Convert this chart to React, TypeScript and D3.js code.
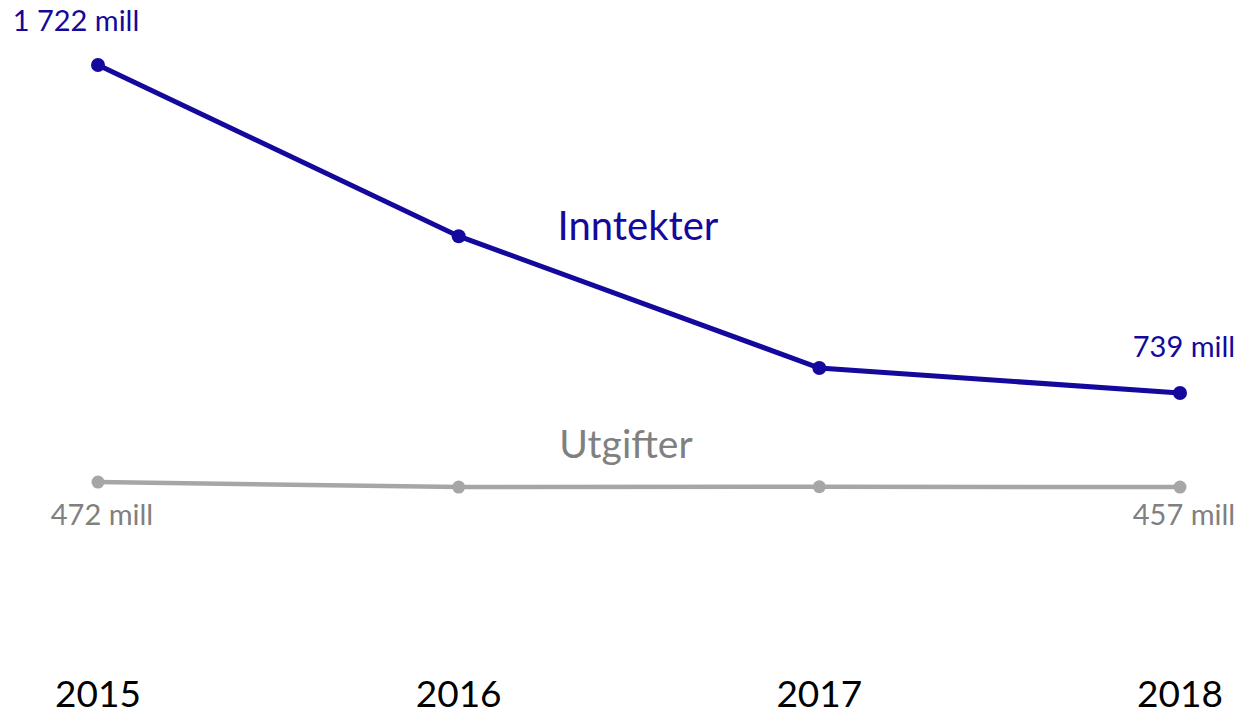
import React from 'react';
import * as d3 from 'd3';

// år og verdier (mill kr)
const years = ['2015', '2016', '2017', '2018'];
const inntekter = [1722, 1209, 814, 739];
const utgifter = [472, 457, 458, 457];
const inntektLabels = ['1 722 mill', '', '', '739 mill'];
const utgiftLabels = ['472 mill', '', '', '457 mill'];

const W = 1239;
const H = 716;
const FONT = 'Lato, "Open Sans", sans-serif';
const BLUE = '#14099c';
const GREY = '#a6a6a6';
const GREY_TEXT = '#808080';

export default function App() {
  const x = d3.scalePoint<string>().domain(years).range([98, 1180]);
  const y = d3.scaleLinear().domain([0, 1722]).range([639.6, 65]);

  const line = d3.line<number>()
    .x((_, i) => x(years[i]) as number)
    .y(d => y(d));

  return (
    <svg width={W} height={H} style={{ position: 'absolute', left: 0, top: 0, background: 'white' }}>
      {/* utgifter */}
      <path d={line(utgifter) || ''} fill="none" stroke={GREY} strokeWidth={4.5} />
      {utgifter.map((d, i) => (
        <circle key={'u' + i} cx={x(years[i])} cy={y(d)} r={6.5} fill={GREY} />
      ))}
      {/* inntekter */}
      <path d={line(inntekter) || ''} fill="none" stroke={BLUE} strokeWidth={5} />
      {inntekter.map((d, i) => (
        <circle key={'i' + i} cx={x(years[i])} cy={y(d)} r={7} fill={BLUE} />
      ))}

      {/* verdietiketter */}
      {inntektLabels.map((t, i) => t && (
        <text key={'il' + i}
          x={(x(years[i]) as number) + (i === 0 ? -22 : 4)}
          y={y(inntekter[i]) - (i === 0 ? 34 : 36)}
          textAnchor="middle" fontFamily={FONT} fontSize={29} fill={BLUE}>{t}</text>
      ))}
      {utgiftLabels.map((t, i) => t && (
        <text key={'ul' + i}
          x={(x(years[i]) as number) + 4}
          y={y(utgifter[i]) + (i === 0 ? 43 : 38)}
          textAnchor="middle" fontFamily={FONT} fontSize={29} fill={GREY_TEXT}>{t}</text>
      ))}

      {/* serienavn */}
      <text x={638} y={240} textAnchor="middle" fontFamily={FONT} fontSize={40} fill={BLUE}>Inntekter</text>
      <text x={626} y={458} textAnchor="middle" fontFamily={FONT} fontSize={39} fill={GREY_TEXT}>Utgifter</text>

      {/* år */}
      {years.map(yr => (
        <text key={yr} x={x(yr)} y={707} textAnchor="middle" fontFamily={FONT} fontSize={37} fill="#000">{yr}</text>
      ))}
    </svg>
  );
}
